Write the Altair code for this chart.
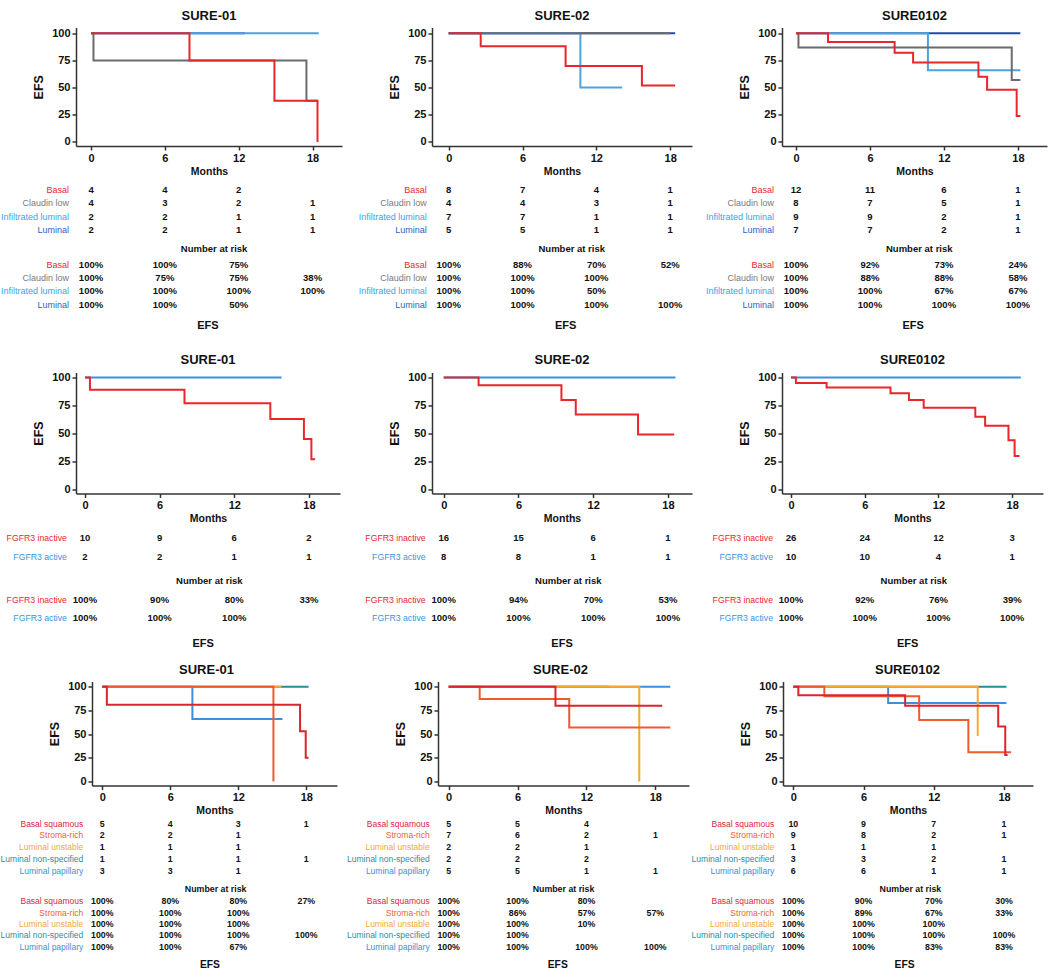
import altair as alt
import pandas as pd

MONTHS = [0, 6, 12, 18]
EFS_TICKS = [0, 25, 50, 75, 100]
STUDIES = ["SURE-01", "SURE-02", "SURE0102"]

# ---------- Molecular subtypes ----------
SUBTYPES = ["Basal", "Claudin low", "Infiltrated luminal", "Luminal"]
SUBTYPE_TEXT_COLORS = ["#e8282d", "#7a7a7a", "#41a2e6", "#2b62c4"]
SUBTYPE_LINE_COLORS = ["#e8262b", "#6b6b6b", "#4aa3e0", "#2448a8"]
SUBTYPE_DRAW_ORDER = [3, 2, 1, 0]

# step curves: change points (months) and EFS (%) from each point on
SUB_S01_T = [[0, 8.0, 14.9, 18.4], [0, 0.2, 17.5, 18.4], [0, 18.5], [0, 12.5]]
SUB_S01_EFS = [[100, 75, 38, 0], [100, 75, 38, 38], [100, 100], [100, 100]]
SUB_S02_T = [[0, 2.6, 9.5, 15.7, 18.4], [0, 18.0], [0, 10.7, 14.1], [0, 18.4]]
SUB_S02_EFS = [[100, 88, 70, 52, 52], [100, 100], [100, 50, 50], [100, 100]]
SUB_S0102_T = [[0, 2.6, 8.0, 9.5, 14.8, 15.5, 17.9, 18.2], [0, 0.2, 17.5, 18.2],
               [0, 10.7, 18.2], [0, 18.2]]
SUB_S0102_EFS = [[100, 92, 82, 73, 60, 48, 24, 24], [100, 87, 57, 57],
                 [100, 66, 66], [100, 100]]

SUB_S01_RISK = [[4, 4, 2, None], [4, 3, 2, 1], [2, 2, 1, 1], [2, 2, 1, 1]]
SUB_S01_PCT = [[100, 100, 75, None], [100, 75, 75, 38], [100, 100, 100, 100], [100, 100, 50, None]]
SUB_S02_RISK = [[8, 7, 4, 1], [4, 4, 3, 1], [7, 7, 1, 1], [5, 5, 1, 1]]
SUB_S02_PCT = [[100, 88, 70, 52], [100, 100, 100, None], [100, 100, 50, None], [100, 100, 100, 100]]
SUB_S0102_RISK = [[12, 11, 6, 1], [8, 7, 5, 1], [9, 9, 2, 1], [7, 7, 2, 1]]
SUB_S0102_PCT = [[100, 92, 73, 24], [100, 88, 88, 58], [100, 100, 67, 67], [100, 100, 100, 100]]

# ---------- FGFR3 status ----------
FGFR3 = ["FGFR3 inactive", "FGFR3 active"]
FGFR3_TEXT_COLORS = ["#e8282d", "#3a95e0"]
FGFR3_LINE_COLORS = ["#e8262b", "#3d8fe0"]
FGFR3_DRAW_ORDER = [1, 0]

FG_S01_T = [[0, 0.4, 8.0, 14.9, 17.6, 18.2, 18.5], [0, 15.8]]
FG_S01_EFS = [[100, 89, 77, 63, 45, 27, 27], [100, 100]]
FG_S02_T = [[0, 2.8, 9.45, 10.6, 15.6, 18.5], [0, 18.6]]
FG_S02_EFS = [[100, 93, 80, 67, 49, 49], [100, 100]]
FG_S0102_T = [[0, 0.4, 2.9, 8.1, 9.6, 10.8, 15.0, 15.8, 17.7, 18.2, 18.6], [0, 18.7]]
FG_S0102_EFS = [[100, 95, 91, 86, 80, 73, 65, 57, 44, 30, 30], [100, 100]]

FG_S01_RISK = [[10, 9, 6, 2], [2, 2, 1, 1]]
FG_S01_PCT = [[100, 90, 80, 33], [100, 100, 100, None]]
FG_S02_RISK = [[16, 15, 6, 1], [8, 8, 1, 1]]
FG_S02_PCT = [[100, 94, 70, 53], [100, 100, 100, 100]]
FG_S0102_RISK = [[26, 24, 12, 3], [10, 10, 4, 1]]
FG_S0102_PCT = [[100, 92, 76, 39], [100, 100, 100, 100]]

# ---------- Consensus classes ----------
CONSENSUS = ["Basal squamous", "Stroma-rich", "Luminal unstable",
             "Luminal non-specified", "Luminal papillary"]
CONS_TEXT_COLORS = ["#e0253c", "#ef6236", "#f2a93b", "#2a8f9a", "#3b8edc"]
CONS_LINE_COLORS = ["#d9262e", "#ee5a2c", "#f5a930", "#2a8a96", "#3d8fda"]
CONS_DRAW_ORDER = [3, 4, 2, 1, 0]

CO_S01_T = [[0, 0.4, 17.45, 17.95, 18.2], [0, 15.1], [0, 15.8], [0, 18.2], [0, 7.95, 15.9]]
CO_S01_EFS = [[100, 81, 53, 25, 25], [100, 0], [100, 100], [100, 100], [100, 66, 66]]
CO_S02_T = [[0, 9.3, 18.6], [0, 2.7, 10.5, 19.3], [0, 16.6], [0, 14.0], [0, 19.3]]
CO_S02_EFS = [[100, 80, 80], [100, 87, 57, 57], [100, 0], [100, 100], [100, 100]]
CO_S0102_T = [[0, 0.43, 9.55, 17.5, 18.1, 18.3], [0, 2.65, 10.75, 14.95, 18.6],
              [0, 15.75], [0, 18.2], [0, 8.1, 18.2]]
CO_S0102_EFS = [[100, 91, 80, 58, 28, 28], [100, 90, 65, 31, 31],
                [100, 48], [100, 100], [100, 83, 83]]

CO_S01_RISK = [[5, 4, 3, 1], [2, 2, 1, None], [1, 1, 1, None], [1, 1, 1, 1], [3, 3, 1, None]]
CO_S01_PCT = [[100, 80, 80, 27], [100, 100, 100, None], [100, 100, 100, None],
              [100, 100, 100, 100], [100, 100, 67, None]]
CO_S02_RISK = [[5, 5, 4, None], [7, 6, 2, 1], [2, 2, 1, None], [2, 2, 2, None], [5, 5, 1, 1]]
CO_S02_PCT = [[100, 100, 80, None], [100, 86, 57, 57], [100, 100, 10, None],
              [100, 100, None, None], [100, 100, 100, 100]]
CO_S0102_RISK = [[10, 9, 7, 1], [9, 8, 2, 1], [1, 1, 1, None], [3, 3, 2, 1], [6, 6, 1, 1]]
CO_S0102_PCT = [[100, 90, 70, 30], [100, 89, 67, 33], [100, 100, 100, None],
                [100, 100, 100, 100], [100, 100, 83, 83]]

# ---------- layout ----------
SANS = "Liberation Sans"

# per row: plot height and EFS domain
KM_ROWS = [
    dict(height=118.5, ymin=-3.7, ymax=105.3),
    dict(height=121, ymin=-3.57, ymax=104.46),
    dict(height=104, ymin=-4.22, ymax=105.6),
]
# per row and column: month domain, cell width and left inset of the plotting range
KM_COLS = [
    [(-1.22, 20.39, 266, 0), (-1.357, 19.77, 260, 0), (-1.135, 20.36, 265, 0)],
    [(-0.72, 20.5, 264, 0), (-0.94, 19.93, 260, 0), (-0.73, 20.51, 261, 0)],
    [(-0.91, 20.71, 261, 16), (-0.93, 20.93, 257, 6), (-0.88, 20.47, 251, 1)],
]
# risk / EFS tables: line positions in pixels from the top of each table
TABLE_ROWS = [
    dict(height=185.7, first=23, lh=13.5, header=82.3, efs_first=98.3, efs_lh=13.3, title=159,
         dx=-22, size=9, vsize=9.5),
    dict(height=148, first=24.3, lh=19, header=67.3, efs_first=86.3, efs_lh=18, title=130.3,
         dx=-18, size=8.7, vsize=9.5),
    dict(height=165, first=18, lh=11.8, header=83, efs_first=95.6, efs_lh=11.4, title=159.6,
         dx=-19, size=8.5, vsize=8.8),
]


def month_scale(col):
    xmin, xmax, w, inset = col
    return alt.Scale(domain=[xmin, xmax], range=[inset, w], nice=False, zero=False)


def km_chart(title, col, row, times, efs, colors, order):
    w, inset = col[2], col[3]
    x = alt.X("t:Q", scale=month_scale(col), axis=alt.Axis(values=MONTHS, title="Months"))
    y = alt.Y("s:Q", scale=alt.Scale(domain=[row["ymin"], row["ymax"]], nice=False, zero=False),
              axis=alt.Axis(values=EFS_TICKS, title="EFS", offset=-inset))
    layers = []
    for i in order:
        df = pd.DataFrame({"t": times[i], "s": efs[i]})
        layers.append(
            alt.Chart(df).mark_line(interpolate="step-after", color=colors[i], strokeWidth=2)
            .encode(x=x, y=y)
        )
    return alt.layer(*layers).properties(
        width=w, height=row["height"],
        title=alt.Title(title, font=SANS, fontSize=13, fontWeight="bold", anchor="middle",
                        frame="group", offset=7, dy=13, baseline="alphabetic", color="#111"),
    )


def table_chart(col, trow, groups, colors, risk, pct):
    w = col[2]
    labels, values = [], []
    for i, g in enumerate(groups):
        y1 = trow["first"] + i * trow["lh"]
        y2 = trow["efs_first"] + i * trow["efs_lh"]
        labels.append(dict(x=0, y=y1, text=g, color=colors[i]))
        labels.append(dict(x=0, y=y2, text=g, color=colors[i]))
        for m, n in zip(MONTHS, risk[i]):
            if n is not None:
                values.append(dict(x=m, y=y1, text=str(n)))
        for m, p in zip(MONTHS, pct[i]):
            if p is not None:
                values.append(dict(x=m, y=y2, text=f"{p}%"))
    heads = [dict(x=10, y=trow["header"], text="Number at risk", size=trow["vsize"]),
             dict(x=9.5, y=trow["title"], text="EFS", size=trow["vsize"] + 1.5)]
    x = alt.X("x:Q", scale=month_scale(col), axis=None)
    y = alt.Y("y:Q", scale=alt.Scale(domain=[0, trow["height"]], nice=False, zero=False, reverse=True),
              axis=None)
    lab = alt.Chart(pd.DataFrame(labels)).mark_text(
        align="right", dx=trow["dx"], font=SANS, fontSize=trow["size"]
    ).encode(x=x, y=y, text="text:N", color=alt.Color("color:N", scale=None))
    val = alt.Chart(pd.DataFrame(values)).mark_text(
        align="center", font=SANS, fontSize=trow["vsize"], fontWeight="bold", color="#111"
    ).encode(x=x, y=y, text="text:N")
    head = alt.Chart(pd.DataFrame(heads)).mark_text(
        align="center", font=SANS, fontWeight="bold", color="#111"
    ).encode(x=x, y=y, text="text:N", size=alt.Size("size:Q", scale=None))
    return alt.layer(lab, val, head).properties(width=w, height=trow["height"])


PANELS = [
    dict(groups=SUBTYPES, text=SUBTYPE_TEXT_COLORS, line=SUBTYPE_LINE_COLORS, order=SUBTYPE_DRAW_ORDER,
         curves=[(SUB_S01_T, SUB_S01_EFS), (SUB_S02_T, SUB_S02_EFS), (SUB_S0102_T, SUB_S0102_EFS)],
         tables=[(SUB_S01_RISK, SUB_S01_PCT), (SUB_S02_RISK, SUB_S02_PCT), (SUB_S0102_RISK, SUB_S0102_PCT)]),
    dict(groups=FGFR3, text=FGFR3_TEXT_COLORS, line=FGFR3_LINE_COLORS, order=FGFR3_DRAW_ORDER,
         curves=[(FG_S01_T, FG_S01_EFS), (FG_S02_T, FG_S02_EFS), (FG_S0102_T, FG_S0102_EFS)],
         tables=[(FG_S01_RISK, FG_S01_PCT), (FG_S02_RISK, FG_S02_PCT), (FG_S0102_RISK, FG_S0102_PCT)]),
    dict(groups=CONSENSUS, text=CONS_TEXT_COLORS, line=CONS_LINE_COLORS, order=CONS_DRAW_ORDER,
         curves=[(CO_S01_T, CO_S01_EFS), (CO_S02_T, CO_S02_EFS), (CO_S0102_T, CO_S0102_EFS)],
         tables=[(CO_S01_RISK, CO_S01_PCT), (CO_S02_RISK, CO_S02_PCT), (CO_S0102_RISK, CO_S0102_PCT)]),
]

cells = []
for r, p in enumerate(PANELS):
    for c in range(3):
        t, s = p["curves"][c]
        cells.append(km_chart(STUDIES[c], KM_COLS[r][c], KM_ROWS[r], t, s, p["line"], p["order"]))
    for c in range(3):
        risk, pct = p["tables"][c]
        cells.append(table_chart(KM_COLS[r][c], TABLE_ROWS[r], p["groups"], p["text"], risk, pct))

chart = alt.concat(
    *cells, columns=3, spacing={"row": 20, "column": 90}, bounds="flush", align="each"
).properties(
    padding={"left": 0, "top": 9.5, "right": 4, "bottom": 2}
).configure_view(
    stroke=None
).configure_axis(
    grid=False, labelFont=SANS, labelFontWeight="bold", labelFontSize=11, labelColor="#111",
    titleFont=SANS, titleFontWeight="bold", titleColor="#111",
    domainColor="#333", domainWidth=1.5, tickColor="#333", tickWidth=1.5, tickSize=4, labelPadding=2,
).configure_axisX(
    titleFontSize=10.5, titlePadding=3
).configure_axisY(
    titleFontSize=12.5, titlePadding=6
)

chart.save("out.html", embed_options={"renderer": "svg", "actions": False})
